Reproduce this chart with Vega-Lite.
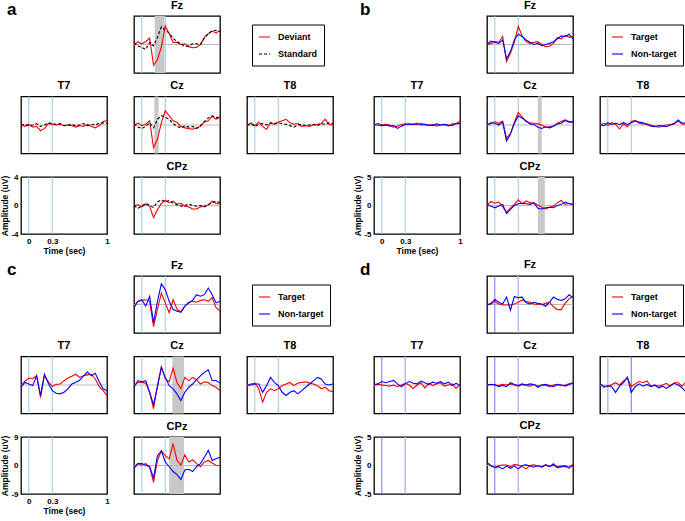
{
"$schema":"https://vega.github.io/schema/vega-lite/v6.json",
"padding":{"left":0,"top":-2,"right":0,"bottom":0},
"config":{
"font":"Liberation Sans",
"view":{"stroke":"#000","strokeWidth":1.3},
"title":{"fontSize":11,"fontWeight":"bold","offset":5,"baseline":"alphabetic","color":"#000"},
"axis":{"disable":true,"domain":false,"ticks":false,"grid":false,"labelFontSize":8,"labelFontWeight":"bold","labelColor":"#000","labelPadding":3,"labelFlush":false,"labelOverlap":false,"titleFontSize":8.5,"titleFontWeight":"bold","titleColor":"#000","titlePadding":1},
"legend":{"orient":"none","legendX":118,"legendY":8.5,"strokeColor":"#000","padding":6,"symbolType":"stroke","symbolSize":121,"symbolStrokeWidth":1.5,"labelFontSize":9,"labelFontWeight":"bold","labelColor":"#000","rowPadding":5,"labelOffset":7},
"line":{"strokeWidth":1.1},
"rule":{"strokeWidth":1}
},
"datasets":{
"a":[
{"e":"Fz","t":-0.1,"Deviant":-0.2,"Standard":0.25},{"e":"Fz","t":-0.05,"Deviant":0.4,"Standard":-0.2},{"e":"Fz","t":0,"Deviant":0.1,"Standard":-0.4},{"e":"Fz","t":0.05,"Deviant":0.4,"Standard":-0.7},{"e":"Fz","t":0.1,"Deviant":0.9,"Standard":0.3},{"e":"Fz","t":0.15,"Deviant":-2.9,"Standard":-0.2},{"e":"Fz","t":0.2,"Deviant":-2.1,"Standard":1},{"e":"Fz","t":0.25,"Deviant":-0.35,"Standard":2.5},{"e":"Fz","t":0.3,"Deviant":2.6,"Standard":2},{"e":"Fz","t":0.35,"Deviant":1.5,"Standard":1.6},{"e":"Fz","t":0.4,"Deviant":0.3,"Standard":0.9},{"e":"Fz","t":0.45,"Deviant":0.3,"Standard":0.4},{"e":"Fz","t":0.5,"Deviant":0,"Standard":0.1},{"e":"Fz","t":0.55,"Deviant":0.1,"Standard":-0.3},{"e":"Fz","t":0.6,"Deviant":-0.3,"Standard":-0.2},{"e":"Fz","t":0.65,"Deviant":-0.45,"Standard":0.1},{"e":"Fz","t":0.7,"Deviant":-0.4,"Standard":0.1},{"e":"Fz","t":0.75,"Deviant":0,"Standard":0},{"e":"Fz","t":0.8,"Deviant":1,"Standard":0.9},{"e":"Fz","t":0.85,"Deviant":1.5,"Standard":1.5},{"e":"Fz","t":0.9,"Deviant":1.9,"Standard":1.9},{"e":"Fz","t":0.95,"Deviant":1.6,"Standard":2},{"e":"Fz","t":1,"Deviant":2,"Standard":1.8},
{"e":"T7","t":-0.1,"Deviant":0,"Standard":0},{"e":"T7","t":-0.05,"Deviant":-0.2,"Standard":0.1},{"e":"T7","t":0,"Deviant":0.1,"Standard":-0.1},{"e":"T7","t":0.05,"Deviant":-0.3,"Standard":0},{"e":"T7","t":0.1,"Deviant":-0.2,"Standard":0.2},{"e":"T7","t":0.15,"Deviant":-0.8,"Standard":-0.2},{"e":"T7","t":0.2,"Deviant":-0.5,"Standard":0},{"e":"T7","t":0.25,"Deviant":0.2,"Standard":0.3},{"e":"T7","t":0.3,"Deviant":0.1,"Standard":0.2},{"e":"T7","t":0.35,"Deviant":0,"Standard":0.1},{"e":"T7","t":0.4,"Deviant":0.1,"Standard":0.2},{"e":"T7","t":0.45,"Deviant":-0.1,"Standard":-0.1},{"e":"T7","t":0.5,"Deviant":0,"Standard":0},{"e":"T7","t":0.55,"Deviant":-0.1,"Standard":0.1},{"e":"T7","t":0.6,"Deviant":-0.3,"Standard":-0.1},{"e":"T7","t":0.65,"Deviant":-0.1,"Standard":0},{"e":"T7","t":0.7,"Deviant":-0.2,"Standard":0.2},{"e":"T7","t":0.75,"Deviant":0.1,"Standard":-0.1},{"e":"T7","t":0.8,"Deviant":-0.2,"Standard":0.1},{"e":"T7","t":0.85,"Deviant":-0.4,"Standard":0},{"e":"T7","t":0.9,"Deviant":-0.1,"Standard":0.2},{"e":"T7","t":0.95,"Deviant":0.5,"Standard":0.3},{"e":"T7","t":1,"Deviant":0.6,"Standard":0.2},
{"e":"Cz","t":-0.1,"Deviant":-0.2,"Standard":0.2},{"e":"Cz","t":-0.05,"Deviant":0.3,"Standard":-0.3},{"e":"Cz","t":0,"Deviant":-0.1,"Standard":-0.5},{"e":"Cz","t":0.05,"Deviant":0.1,"Standard":-0.2},{"e":"Cz","t":0.1,"Deviant":0.6,"Standard":0.3},{"e":"Cz","t":0.15,"Deviant":-3.2,"Standard":-0.4},{"e":"Cz","t":0.2,"Deviant":-2,"Standard":0.8},{"e":"Cz","t":0.25,"Deviant":0.3,"Standard":1.3},{"e":"Cz","t":0.3,"Deviant":2,"Standard":1.1},{"e":"Cz","t":0.35,"Deviant":1.3,"Standard":0.8},{"e":"Cz","t":0.4,"Deviant":0.6,"Standard":0.2},{"e":"Cz","t":0.45,"Deviant":0.4,"Standard":-0.2},{"e":"Cz","t":0.5,"Deviant":-0.2,"Standard":-0.4},{"e":"Cz","t":0.55,"Deviant":-0.4,"Standard":-0.1},{"e":"Cz","t":0.6,"Deviant":-0.5,"Standard":-0.3},{"e":"Cz","t":0.65,"Deviant":-0.6,"Standard":-0.2},{"e":"Cz","t":0.7,"Deviant":-0.4,"Standard":-0.5},{"e":"Cz","t":0.75,"Deviant":-0.2,"Standard":-0.1},{"e":"Cz","t":0.8,"Deviant":0.4,"Standard":0.5},{"e":"Cz","t":0.85,"Deviant":0.6,"Standard":1},{"e":"Cz","t":0.9,"Deviant":1.2,"Standard":1.3},{"e":"Cz","t":0.95,"Deviant":0.8,"Standard":1.1},{"e":"Cz","t":1,"Deviant":1.2,"Standard":0.9},
{"e":"T8","t":-0.1,"Deviant":-0.2,"Standard":0},{"e":"T8","t":-0.05,"Deviant":0.3,"Standard":0.2},{"e":"T8","t":0,"Deviant":-0.1,"Standard":-0.2},{"e":"T8","t":0.05,"Deviant":0.4,"Standard":0.1},{"e":"T8","t":0.1,"Deviant":-0.2,"Standard":0.2},{"e":"T8","t":0.15,"Deviant":-0.6,"Standard":0},{"e":"T8","t":0.2,"Deviant":0.3,"Standard":0.3},{"e":"T8","t":0.25,"Deviant":0.1,"Standard":0.2},{"e":"T8","t":0.3,"Deviant":0.4,"Standard":0.3},{"e":"T8","t":0.35,"Deviant":0.6,"Standard":0.2},{"e":"T8","t":0.4,"Deviant":0.8,"Standard":0.1},{"e":"T8","t":0.45,"Deviant":0.3,"Standard":-0.1},{"e":"T8","t":0.5,"Deviant":0.1,"Standard":-0.3},{"e":"T8","t":0.55,"Deviant":0.2,"Standard":0},{"e":"T8","t":0.6,"Deviant":-0.2,"Standard":0.1},{"e":"T8","t":0.65,"Deviant":-0.1,"Standard":-0.1},{"e":"T8","t":0.7,"Deviant":-0.2,"Standard":0},{"e":"T8","t":0.75,"Deviant":0,"Standard":0.1},{"e":"T8","t":0.8,"Deviant":0.1,"Standard":-0.1},{"e":"T8","t":0.85,"Deviant":0.2,"Standard":0.2},{"e":"T8","t":0.9,"Deviant":0.8,"Standard":0.1},{"e":"T8","t":0.95,"Deviant":0.1,"Standard":0.3},{"e":"T8","t":1,"Deviant":0,"Standard":0.2},
{"e":"CPz","t":-0.1,"Deviant":0,"Standard":0},{"e":"CPz","t":-0.05,"Deviant":0.1,"Standard":-0.4},{"e":"CPz","t":0,"Deviant":-0.2,"Standard":-0.1},{"e":"CPz","t":0.05,"Deviant":0.2,"Standard":0.3},{"e":"CPz","t":0.1,"Deviant":-0.1,"Standard":0},{"e":"CPz","t":0.15,"Deviant":-1.7,"Standard":-0.3},{"e":"CPz","t":0.2,"Deviant":-0.6,"Standard":0.5},{"e":"CPz","t":0.25,"Deviant":0.3,"Standard":0.8},{"e":"CPz","t":0.3,"Deviant":0.7,"Standard":0.5},{"e":"CPz","t":0.35,"Deviant":0.4,"Standard":0.7},{"e":"CPz","t":0.4,"Deviant":0.6,"Standard":0.3},{"e":"CPz","t":0.45,"Deviant":0.2,"Standard":0.1},{"e":"CPz","t":0.5,"Deviant":0.3,"Standard":-0.1},{"e":"CPz","t":0.55,"Deviant":-0.1,"Standard":0},{"e":"CPz","t":0.6,"Deviant":-0.2,"Standard":0.2},{"e":"CPz","t":0.65,"Deviant":-0.5,"Standard":0},{"e":"CPz","t":0.7,"Deviant":-0.5,"Standard":-0.1},{"e":"CPz","t":0.75,"Deviant":-0.2,"Standard":0},{"e":"CPz","t":0.8,"Deviant":-0.1,"Standard":-0.2},{"e":"CPz","t":0.85,"Deviant":0.1,"Standard":0.1},{"e":"CPz","t":0.9,"Deviant":0.6,"Standard":0.4},{"e":"CPz","t":0.95,"Deviant":0.3,"Standard":0.6},{"e":"CPz","t":1,"Deviant":0.2,"Standard":0.4}
],
"b":[
{"e":"Fz","t":-0.1,"Target":0,"Non-target":0},{"e":"Fz","t":-0.05,"Target":0.2,"Non-target":0.6},{"e":"Fz","t":0,"Target":0.5,"Non-target":0.4},{"e":"Fz","t":0.05,"Target":0.4,"Non-target":0.2},{"e":"Fz","t":0.1,"Target":1.4,"Non-target":0.8},{"e":"Fz","t":0.15,"Target":-3,"Non-target":-2.5},{"e":"Fz","t":0.2,"Target":-1.5,"Non-target":-1.2},{"e":"Fz","t":0.25,"Target":0.4,"Non-target":0.8},{"e":"Fz","t":0.3,"Target":3.2,"Non-target":1.8},{"e":"Fz","t":0.35,"Target":1.5,"Non-target":1.4},{"e":"Fz","t":0.4,"Target":0.5,"Non-target":0.8},{"e":"Fz","t":0.45,"Target":0.2,"Non-target":0.4},{"e":"Fz","t":0.5,"Target":0.4,"Non-target":0},{"e":"Fz","t":0.55,"Target":0.5,"Non-target":0.2},{"e":"Fz","t":0.6,"Target":0,"Non-target":-0.2},{"e":"Fz","t":0.65,"Target":-0.4,"Non-target":0},{"e":"Fz","t":0.7,"Target":-0.3,"Non-target":0.2},{"e":"Fz","t":0.75,"Target":0.2,"Non-target":0.5},{"e":"Fz","t":0.8,"Target":1.2,"Non-target":1},{"e":"Fz","t":0.85,"Target":1,"Non-target":1.5},{"e":"Fz","t":0.9,"Target":1.6,"Non-target":1.4},{"e":"Fz","t":0.95,"Target":1.3,"Non-target":1.8},{"e":"Fz","t":1,"Target":1.3,"Non-target":1},
{"e":"T7","t":-0.1,"Target":0,"Non-target":0},{"e":"T7","t":-0.05,"Target":0.3,"Non-target":0},{"e":"T7","t":0,"Target":0,"Non-target":-0.1},{"e":"T7","t":0.05,"Target":0.1,"Non-target":0},{"e":"T7","t":0.1,"Target":0,"Non-target":-0.2},{"e":"T7","t":0.15,"Target":-0.4,"Non-target":-0.1},{"e":"T7","t":0.2,"Target":-0.2,"Non-target":-0.6},{"e":"T7","t":0.25,"Target":0.1,"Non-target":-0.2},{"e":"T7","t":0.3,"Target":0.2,"Non-target":0.1},{"e":"T7","t":0.35,"Target":0.1,"Non-target":0.2},{"e":"T7","t":0.4,"Target":0.2,"Non-target":0.1},{"e":"T7","t":0.45,"Target":0,"Non-target":0.3},{"e":"T7","t":0.5,"Target":0.3,"Non-target":0},{"e":"T7","t":0.55,"Target":0.1,"Non-target":0.1},{"e":"T7","t":0.6,"Target":-0.1,"Non-target":0},{"e":"T7","t":0.65,"Target":0.1,"Non-target":-0.1},{"e":"T7","t":0.7,"Target":-0.2,"Non-target":0.2},{"e":"T7","t":0.75,"Target":0,"Non-target":0},{"e":"T7","t":0.8,"Target":0.1,"Non-target":0.1},{"e":"T7","t":0.85,"Target":-0.2,"Non-target":0},{"e":"T7","t":0.9,"Target":0.2,"Non-target":-0.1},{"e":"T7","t":0.95,"Target":0.2,"Non-target":0.3},{"e":"T7","t":1,"Target":0.7,"Non-target":0.2},
{"e":"Cz","t":-0.1,"Target":0,"Non-target":0},{"e":"Cz","t":-0.05,"Target":0.2,"Non-target":0.4},{"e":"Cz","t":0,"Target":0.6,"Non-target":0.3},{"e":"Cz","t":0.05,"Target":0.3,"Non-target":0},{"e":"Cz","t":0.1,"Target":0.7,"Non-target":0.5},{"e":"Cz","t":0.15,"Target":-2.3,"Non-target":-2.8},{"e":"Cz","t":0.2,"Target":-1.5,"Non-target":-1.6},{"e":"Cz","t":0.25,"Target":0.5,"Non-target":0.3},{"e":"Cz","t":0.3,"Target":2.2,"Non-target":1.6},{"e":"Cz","t":0.35,"Target":1.4,"Non-target":1.2},{"e":"Cz","t":0.4,"Target":0.6,"Non-target":0.7},{"e":"Cz","t":0.45,"Target":0.4,"Non-target":0.2},{"e":"Cz","t":0.5,"Target":0.3,"Non-target":0.1},{"e":"Cz","t":0.55,"Target":0.2,"Non-target":-0.4},{"e":"Cz","t":0.6,"Target":0,"Non-target":-0.6},{"e":"Cz","t":0.65,"Target":-0.4,"Non-target":-0.3},{"e":"Cz","t":0.7,"Target":-0.3,"Non-target":-0.5},{"e":"Cz","t":0.75,"Target":-0.2,"Non-target":-0.2},{"e":"Cz","t":0.8,"Target":0.3,"Non-target":0.2},{"e":"Cz","t":0.85,"Target":0.6,"Non-target":0.3},{"e":"Cz","t":0.9,"Target":0.9,"Non-target":0.8},{"e":"Cz","t":0.95,"Target":0.6,"Non-target":0.5},{"e":"Cz","t":1,"Target":0.6,"Non-target":0.5},
{"e":"T8","t":-0.1,"Target":0,"Non-target":0},{"e":"T8","t":-0.05,"Target":0.3,"Non-target":-0.1},{"e":"T8","t":0,"Target":-0.1,"Non-target":0.4},{"e":"T8","t":0.05,"Target":0.4,"Non-target":0.1},{"e":"T8","t":0.1,"Target":0.1,"Non-target":0.3},{"e":"T8","t":0.15,"Target":-0.7,"Non-target":0.1},{"e":"T8","t":0.2,"Target":0.2,"Non-target":0.4},{"e":"T8","t":0.25,"Target":-0.3,"Non-target":0.1},{"e":"T8","t":0.3,"Target":0.6,"Non-target":0.4},{"e":"T8","t":0.35,"Target":0.8,"Non-target":0.7},{"e":"T8","t":0.4,"Target":0.3,"Non-target":0.5},{"e":"T8","t":0.45,"Target":0.2,"Non-target":0.4},{"e":"T8","t":0.5,"Target":0.2,"Non-target":0.1},{"e":"T8","t":0.55,"Target":0,"Non-target":-0.2},{"e":"T8","t":0.6,"Target":-0.2,"Non-target":-0.3},{"e":"T8","t":0.65,"Target":-0.4,"Non-target":-0.1},{"e":"T8","t":0.7,"Target":-0.2,"Non-target":-0.2},{"e":"T8","t":0.75,"Target":0,"Non-target":-0.3},{"e":"T8","t":0.8,"Target":0.1,"Non-target":0},{"e":"T8","t":0.85,"Target":0.2,"Non-target":0.3},{"e":"T8","t":0.9,"Target":0.7,"Non-target":0.9},{"e":"T8","t":0.95,"Target":0.2,"Non-target":0.3},{"e":"T8","t":1,"Target":0.1,"Non-target":0.4},
{"e":"CPz","t":-0.1,"Target":0,"Non-target":0},{"e":"CPz","t":-0.05,"Target":0.7,"Non-target":-0.1},{"e":"CPz","t":0,"Target":0.4,"Non-target":-0.4},{"e":"CPz","t":0.05,"Target":0.6,"Non-target":-0.1},{"e":"CPz","t":0.1,"Target":-0.2,"Non-target":0.2},{"e":"CPz","t":0.15,"Target":-1.2,"Non-target":-1.4},{"e":"CPz","t":0.2,"Target":-0.4,"Non-target":-0.7},{"e":"CPz","t":0.25,"Target":0.2,"Non-target":0},{"e":"CPz","t":0.3,"Target":1,"Non-target":0.3},{"e":"CPz","t":0.35,"Target":0.3,"Non-target":0.4},{"e":"CPz","t":0.4,"Target":0.8,"Non-target":0.3},{"e":"CPz","t":0.45,"Target":0.5,"Non-target":0.2},{"e":"CPz","t":0.5,"Target":0.4,"Non-target":0.5},{"e":"CPz","t":0.55,"Target":0.1,"Non-target":-0.5},{"e":"CPz","t":0.6,"Target":-0.3,"Non-target":-0.6},{"e":"CPz","t":0.65,"Target":-0.6,"Non-target":-0.4},{"e":"CPz","t":0.7,"Target":-0.3,"Non-target":-0.3},{"e":"CPz","t":0.75,"Target":-0.1,"Non-target":-0.4},{"e":"CPz","t":0.8,"Target":0.5,"Non-target":0},{"e":"CPz","t":0.85,"Target":0.9,"Non-target":0.2},{"e":"CPz","t":0.9,"Target":0.2,"Non-target":0.6},{"e":"CPz","t":0.95,"Target":0.4,"Non-target":0.3},{"e":"CPz","t":1,"Target":0.1,"Non-target":0.2}
],
"c":[
{"e":"Fz","t":-0.1,"Target":-0.5,"Non-target":-1},{"e":"Fz","t":-0.05,"Target":1,"Non-target":1},{"e":"Fz","t":0,"Target":1.3,"Non-target":1.5},{"e":"Fz","t":0.05,"Target":1.5,"Non-target":-0.5},{"e":"Fz","t":0.1,"Target":1,"Non-target":2.6},{"e":"Fz","t":0.15,"Target":-7,"Non-target":-5.7},{"e":"Fz","t":0.2,"Target":-1.5,"Non-target":1},{"e":"Fz","t":0.25,"Target":3.6,"Non-target":6.5},{"e":"Fz","t":0.3,"Target":0.5,"Non-target":4.7},{"e":"Fz","t":0.35,"Target":-2.6,"Non-target":1},{"e":"Fz","t":0.4,"Target":1.5,"Non-target":-1.5},{"e":"Fz","t":0.45,"Target":-1.5,"Non-target":-2.1},{"e":"Fz","t":0.5,"Target":-2.4,"Non-target":-2.4},{"e":"Fz","t":0.55,"Target":-0.5,"Non-target":-0.5},{"e":"Fz","t":0.6,"Target":0.7,"Non-target":0.5},{"e":"Fz","t":0.65,"Target":1,"Non-target":1.3},{"e":"Fz","t":0.7,"Target":0.7,"Non-target":3.1},{"e":"Fz","t":0.75,"Target":1.3,"Non-target":2.6},{"e":"Fz","t":0.8,"Target":1.5,"Non-target":3.1},{"e":"Fz","t":0.85,"Target":1,"Non-target":5.2},{"e":"Fz","t":0.9,"Target":2.2,"Non-target":3.1},{"e":"Fz","t":0.95,"Target":-1,"Non-target":0.5},{"e":"Fz","t":1,"Target":-2,"Non-target":1},
{"e":"T7","t":-0.1,"Target":-0.2,"Non-target":-0.7},{"e":"T7","t":-0.05,"Target":1.2,"Non-target":0.8},{"e":"T7","t":0,"Target":2.2,"Non-target":0.3},{"e":"T7","t":0.05,"Target":2,"Non-target":-0.2},{"e":"T7","t":0.1,"Target":3,"Non-target":2.9},{"e":"T7","t":0.15,"Target":-4,"Non-target":-3.3},{"e":"T7","t":0.2,"Target":3,"Non-target":3.4},{"e":"T7","t":0.25,"Target":1,"Non-target":0.5},{"e":"T7","t":0.3,"Target":-0.5,"Non-target":-1.8},{"e":"T7","t":0.35,"Target":0.2,"Non-target":-2.6},{"e":"T7","t":0.4,"Target":0.3,"Non-target":-2.8},{"e":"T7","t":0.45,"Target":1.3,"Non-target":-2.3},{"e":"T7","t":0.5,"Target":2.2,"Non-target":-1.2},{"e":"T7","t":0.55,"Target":2.8,"Non-target":0.3},{"e":"T7","t":0.6,"Target":3.4,"Non-target":0.8},{"e":"T7","t":0.65,"Target":2.4,"Non-target":1.5},{"e":"T7","t":0.7,"Target":2.9,"Non-target":2.9},{"e":"T7","t":0.75,"Target":3.2,"Non-target":4.1},{"e":"T7","t":0.8,"Target":3.4,"Non-target":2.9},{"e":"T7","t":0.85,"Target":1.9,"Non-target":3.7},{"e":"T7","t":0.9,"Target":-0.5,"Non-target":1},{"e":"T7","t":0.95,"Target":-1.8,"Non-target":-1.2},{"e":"T7","t":1,"Target":-3.3,"Non-target":-1.8},
{"e":"Cz","t":-0.1,"Target":-0.2,"Non-target":-0.7},{"e":"Cz","t":-0.05,"Target":0.8,"Non-target":1.4},{"e":"Cz","t":0,"Target":0.8,"Non-target":1},{"e":"Cz","t":0.05,"Target":0.6,"Non-target":1.4},{"e":"Cz","t":0.1,"Target":-2.3,"Non-target":-2.3},{"e":"Cz","t":0.15,"Target":-7.5,"Non-target":-6.2},{"e":"Cz","t":0.2,"Target":-0.2,"Non-target":-0.5},{"e":"Cz","t":0.25,"Target":5.8,"Non-target":5.5},{"e":"Cz","t":0.3,"Target":1.9,"Non-target":2.4},{"e":"Cz","t":0.35,"Target":1,"Non-target":-0.2},{"e":"Cz","t":0.4,"Target":5.3,"Non-target":-1.2},{"e":"Cz","t":0.45,"Target":0.8,"Non-target":-2.8},{"e":"Cz","t":0.5,"Target":-1.2,"Non-target":-4.9},{"e":"Cz","t":0.55,"Target":2.4,"Non-target":-2.3},{"e":"Cz","t":0.6,"Target":1.4,"Non-target":-0.7},{"e":"Cz","t":0.65,"Target":2.4,"Non-target":0.3},{"e":"Cz","t":0.7,"Target":1.7,"Non-target":1.7},{"e":"Cz","t":0.75,"Target":0.3,"Non-target":2.9},{"e":"Cz","t":0.8,"Target":1,"Non-target":4},{"e":"Cz","t":0.85,"Target":0.8,"Non-target":4.8},{"e":"Cz","t":0.9,"Target":-0.2,"Non-target":1.4},{"e":"Cz","t":0.95,"Target":-0.7,"Non-target":1.4},{"e":"Cz","t":1,"Target":-1.8,"Non-target":0.6},
{"e":"T8","t":-0.1,"Target":-0.2,"Non-target":0},{"e":"T8","t":-0.05,"Target":0.3,"Non-target":0},{"e":"T8","t":0,"Target":0.6,"Non-target":0.3},{"e":"T8","t":0.05,"Target":-1.2,"Non-target":0.3},{"e":"T8","t":0.1,"Target":-5.4,"Non-target":-2.3},{"e":"T8","t":0.15,"Target":-2.3,"Non-target":-0.2},{"e":"T8","t":0.2,"Target":-1.2,"Non-target":2.4},{"e":"T8","t":0.25,"Target":-1.8,"Non-target":0.8},{"e":"T8","t":0.3,"Target":-1.2,"Non-target":-0.2},{"e":"T8","t":0.35,"Target":-0.2,"Non-target":-2.3},{"e":"T8","t":0.4,"Target":0.3,"Non-target":-3.3},{"e":"T8","t":0.45,"Target":0.8,"Non-target":-2.3},{"e":"T8","t":0.5,"Target":-0.2,"Non-target":-1.8},{"e":"T8","t":0.55,"Target":0.6,"Non-target":-2.8},{"e":"T8","t":0.6,"Target":0.8,"Non-target":-1.8},{"e":"T8","t":0.65,"Target":1,"Non-target":-0.7},{"e":"T8","t":0.7,"Target":0.6,"Non-target":0.3},{"e":"T8","t":0.75,"Target":0.3,"Non-target":1.3},{"e":"T8","t":0.8,"Target":-0.2,"Non-target":2.4},{"e":"T8","t":0.85,"Target":-1.2,"Non-target":1.9},{"e":"T8","t":0.9,"Target":-0.7,"Non-target":0.3},{"e":"T8","t":0.95,"Target":-1.8,"Non-target":0},{"e":"T8","t":1,"Target":-2.1,"Non-target":0.3},
{"e":"CPz","t":-0.1,"Target":-0.4,"Non-target":-0.9},{"e":"CPz","t":-0.05,"Target":0.6,"Non-target":0.6},{"e":"CPz","t":0,"Target":0.1,"Non-target":0.6},{"e":"CPz","t":0.05,"Target":0.6,"Non-target":0.1},{"e":"CPz","t":0.1,"Target":-0.4,"Non-target":-0.4},{"e":"CPz","t":0.15,"Target":-5.3,"Non-target":-3.9},{"e":"CPz","t":0.2,"Target":1.6,"Non-target":3.1},{"e":"CPz","t":0.25,"Target":4.6,"Non-target":4.6},{"e":"CPz","t":0.3,"Target":3.1,"Non-target":1.1},{"e":"CPz","t":0.35,"Target":2.1,"Non-target":-0.4},{"e":"CPz","t":0.4,"Target":6.9,"Non-target":-1.9},{"e":"CPz","t":0.45,"Target":1.6,"Non-target":-2.9},{"e":"CPz","t":0.5,"Target":0.1,"Non-target":-4.4},{"e":"CPz","t":0.55,"Target":3.4,"Non-target":-1.4},{"e":"CPz","t":0.6,"Target":1.1,"Non-target":-1.2},{"e":"CPz","t":0.65,"Target":1.8,"Non-target":-1.9},{"e":"CPz","t":0.7,"Target":0.6,"Non-target":-0.4},{"e":"CPz","t":0.75,"Target":-0.4,"Non-target":0.6},{"e":"CPz","t":0.8,"Target":1.1,"Non-target":2.6},{"e":"CPz","t":0.85,"Target":1.6,"Non-target":4.8},{"e":"CPz","t":0.9,"Target":0.8,"Non-target":1.6},{"e":"CPz","t":0.95,"Target":0.1,"Non-target":2.1},{"e":"CPz","t":1,"Target":0,"Non-target":2.6}
],
"d":[
{"e":"Fz","t":-0.1,"Target":-0.1,"Non-target":-0.1},{"e":"Fz","t":-0.05,"Target":0.1,"Non-target":0.2},{"e":"Fz","t":0,"Target":0.5,"Non-target":0.9},{"e":"Fz","t":0.05,"Target":0.1,"Non-target":0.4},{"e":"Fz","t":0.1,"Target":-0.1,"Non-target":0.1},{"e":"Fz","t":0.15,"Target":-0.1,"Non-target":1.3},{"e":"Fz","t":0.2,"Target":-0.1,"Non-target":-1},{"e":"Fz","t":0.25,"Target":0.1,"Non-target":1.4},{"e":"Fz","t":0.3,"Target":0.4,"Non-target":1.2},{"e":"Fz","t":0.35,"Target":0.8,"Non-target":1.3},{"e":"Fz","t":0.4,"Target":0.5,"Non-target":0.3},{"e":"Fz","t":0.45,"Target":0.4,"Non-target":0.1},{"e":"Fz","t":0.5,"Target":0.1,"Non-target":0.4},{"e":"Fz","t":0.55,"Target":0,"Non-target":0.2},{"e":"Fz","t":0.6,"Target":-0.05,"Non-target":0.1},{"e":"Fz","t":0.65,"Target":0.2,"Non-target":-0.3},{"e":"Fz","t":0.7,"Target":0.4,"Non-target":0.4},{"e":"Fz","t":0.75,"Target":-0.4,"Non-target":1.3},{"e":"Fz","t":0.8,"Target":-0.9,"Non-target":0.9},{"e":"Fz","t":0.85,"Target":-0.9,"Non-target":0.7},{"e":"Fz","t":0.9,"Target":0.2,"Non-target":1},{"e":"Fz","t":0.95,"Target":1,"Non-target":1.7},{"e":"Fz","t":1,"Target":1.5,"Non-target":1.2},
{"e":"T7","t":-0.1,"Target":0,"Non-target":0.1},{"e":"T7","t":-0.05,"Target":0.1,"Non-target":0.2},{"e":"T7","t":0,"Target":0,"Non-target":0.6},{"e":"T7","t":0.05,"Target":-0.1,"Non-target":0.4},{"e":"T7","t":0.1,"Target":-0.2,"Non-target":0.6},{"e":"T7","t":0.15,"Target":0,"Non-target":0.8},{"e":"T7","t":0.2,"Target":-0.3,"Non-target":0.2},{"e":"T7","t":0.25,"Target":0,"Non-target":-0.3},{"e":"T7","t":0.3,"Target":0.3,"Non-target":0.2},{"e":"T7","t":0.35,"Target":0,"Non-target":0.6},{"e":"T7","t":0.4,"Target":-0.6,"Non-target":0.3},{"e":"T7","t":0.45,"Target":0,"Non-target":0.2},{"e":"T7","t":0.5,"Target":0.4,"Non-target":0.7},{"e":"T7","t":0.55,"Target":-0.5,"Non-target":0.4},{"e":"T7","t":0.6,"Target":0.3,"Non-target":0.1},{"e":"T7","t":0.65,"Target":-0.1,"Non-target":0.5},{"e":"T7","t":0.7,"Target":0.2,"Non-target":0.3},{"e":"T7","t":0.75,"Target":0.4,"Non-target":0.6},{"e":"T7","t":0.8,"Target":-0.2,"Non-target":0.2},{"e":"T7","t":0.85,"Target":0,"Non-target":0.5},{"e":"T7","t":0.9,"Target":0.2,"Non-target":-0.1},{"e":"T7","t":0.95,"Target":-0.6,"Non-target":0.3},{"e":"T7","t":1,"Target":0.1,"Non-target":-0.1},
{"e":"Cz","t":-0.1,"Target":0,"Non-target":0},{"e":"Cz","t":-0.05,"Target":0.1,"Non-target":0.1},{"e":"Cz","t":0,"Target":0,"Non-target":0.1},{"e":"Cz","t":0.05,"Target":-0.1,"Non-target":-0.3},{"e":"Cz","t":0.1,"Target":0.1,"Non-target":-0.1},{"e":"Cz","t":0.15,"Target":0,"Non-target":-0.3},{"e":"Cz","t":0.2,"Target":0.2,"Non-target":0.4},{"e":"Cz","t":0.25,"Target":0,"Non-target":0.1},{"e":"Cz","t":0.3,"Target":-0.2,"Non-target":-0.1},{"e":"Cz","t":0.35,"Target":0.1,"Non-target":0.2},{"e":"Cz","t":0.4,"Target":-0.1,"Non-target":0},{"e":"Cz","t":0.45,"Target":-0.2,"Non-target":0.2},{"e":"Cz","t":0.5,"Target":0.1,"Non-target":0.1},{"e":"Cz","t":0.55,"Target":-0.2,"Non-target":-0.4},{"e":"Cz","t":0.6,"Target":0,"Non-target":0},{"e":"Cz","t":0.65,"Target":-0.1,"Non-target":0.1},{"e":"Cz","t":0.7,"Target":-0.3,"Non-target":-0.1},{"e":"Cz","t":0.75,"Target":0,"Non-target":-0.3},{"e":"Cz","t":0.8,"Target":0.1,"Non-target":0.1},{"e":"Cz","t":0.85,"Target":-0.1,"Non-target":0},{"e":"Cz","t":0.9,"Target":0,"Non-target":-0.2},{"e":"Cz","t":0.95,"Target":0.2,"Non-target":0.1},{"e":"Cz","t":1,"Target":0.4,"Non-target":0.3},
{"e":"T8","t":-0.1,"Target":0.2,"Non-target":0.3},{"e":"T8","t":-0.05,"Target":-0.2,"Non-target":-0.4},{"e":"T8","t":0,"Target":-0.3,"Non-target":-0.1},{"e":"T8","t":0.05,"Target":0.1,"Non-target":-0.3},{"e":"T8","t":0.1,"Target":0.4,"Non-target":-1.3},{"e":"T8","t":0.15,"Target":0,"Non-target":-0.2},{"e":"T8","t":0.2,"Target":0.7,"Non-target":0.4},{"e":"T8","t":0.25,"Target":1.2,"Non-target":1.4},{"e":"T8","t":0.3,"Target":-0.3,"Non-target":-1.3},{"e":"T8","t":0.35,"Target":0.2,"Non-target":-0.3},{"e":"T8","t":0.4,"Target":0.6,"Non-target":0.2},{"e":"T8","t":0.45,"Target":0.4,"Non-target":-0.2},{"e":"T8","t":0.5,"Target":0.7,"Non-target":0.1},{"e":"T8","t":0.55,"Target":-0.2,"Non-target":-0.3},{"e":"T8","t":0.6,"Target":-0.1,"Non-target":0},{"e":"T8","t":0.65,"Target":-0.2,"Non-target":-0.5},{"e":"T8","t":0.7,"Target":0,"Non-target":-0.2},{"e":"T8","t":0.75,"Target":0.3,"Non-target":-0.6},{"e":"T8","t":0.8,"Target":-0.2,"Non-target":-0.1},{"e":"T8","t":0.85,"Target":0.4,"Non-target":0.3},{"e":"T8","t":0.9,"Target":0.4,"Non-target":0},{"e":"T8","t":0.95,"Target":-0.2,"Non-target":-0.5},{"e":"T8","t":1,"Target":0.6,"Non-target":-1.2},
{"e":"CPz","t":-0.1,"Target":0.5,"Non-target":0.5},{"e":"CPz","t":-0.05,"Target":-0.1,"Non-target":0},{"e":"CPz","t":0,"Target":-0.3,"Non-target":-0.4},{"e":"CPz","t":0.05,"Target":0,"Non-target":-0.2},{"e":"CPz","t":0.1,"Target":0.1,"Non-target":-0.6},{"e":"CPz","t":0.15,"Target":0.1,"Non-target":-0.1},{"e":"CPz","t":0.2,"Target":-0.2,"Non-target":-0.5},{"e":"CPz","t":0.25,"Target":0.2,"Non-target":-0.1},{"e":"CPz","t":0.3,"Target":0.1,"Non-target":-0.6},{"e":"CPz","t":0.35,"Target":-0.2,"Non-target":0},{"e":"CPz","t":0.4,"Target":-0.6,"Non-target":0.1},{"e":"CPz","t":0.45,"Target":0,"Non-target":-0.1},{"e":"CPz","t":0.5,"Target":0.1,"Non-target":-0.3},{"e":"CPz","t":0.55,"Target":-0.1,"Non-target":0},{"e":"CPz","t":0.6,"Target":-0.2,"Non-target":-0.3},{"e":"CPz","t":0.65,"Target":0.1,"Non-target":0.1},{"e":"CPz","t":0.7,"Target":-0.1,"Non-target":-0.2},{"e":"CPz","t":0.75,"Target":0,"Non-target":0.3},{"e":"CPz","t":0.8,"Target":-0.2,"Non-target":-0.4},{"e":"CPz","t":0.85,"Target":-0.3,"Non-target":-0.1},{"e":"CPz","t":0.9,"Target":0,"Non-target":-0.2},{"e":"CPz","t":0.95,"Target":-0.5,"Non-target":-0.3},{"e":"CPz","t":1,"Target":0.3,"Non-target":0}
]
},
"columns":2,
"spacing":{"column":17,"row":2},
"resolve":{"scale":{"color":"independent","strokeDash":"independent"}},
"concat":[
{"columns":3,"spacing":{"row":23.5,"column":27},"bounds":"flush","resolve":{"legend":{"color":"independent","strokeDash":"independent"}},
"concat":[
{"width":86,"height":57,"data":{"values":[{}]},"mark":{"type":"text","text":""},"view":{"stroke":null},"title":{"text":"a","anchor":"start","dx":-14,"offset":-3,"fontSize":17}},
{"width":86,"height":57,"title":"Fz","layer":[
{"data":{"values":[{"from":0.165,"to":0.29}]},"mark":{"type":"rect","color":"#c8c8c8"},"encoding":{"x":{"field":"from","type":"quantitative"},"x2":{"field":"to"}}},
{"data":{"values":[{}]},"mark":{"type":"rule","color":"#b8b8b8"},"encoding":{"y":{"datum":0,"type":"quantitative"}}},
{"data":{"values":[{"t":0},{"t":0.3}]},"mark":{"type":"rule","color":"#9dc6e8"},"encoding":{"x":{"field":"t","type":"quantitative"}}},
{"data":{"name":"a"},"transform":[{"filter":"datum.e==='Fz'"},{"fold":["Deviant","Standard"],"as":["cond","uV"]}],"mark":"line","encoding":{"x":{"field":"t","type":"quantitative","scale":{"domain":[-0.1,1],"nice":false}},"y":{"field":"uV","type":"quantitative","scale":{"domain":[-4,4],"nice":false}},"color":{"field":"cond","type":"nominal","scale":{"domain":["Deviant","Standard"],"range":["#ff0000","#000000"]},"legend":{"title":null}},"strokeDash":{"field":"cond","type":"nominal","scale":{"domain":["Deviant","Standard"],"range":[[1,0],[3,2]]},"legend":{"title":null}}}}
]},
{"width":86,"height":57,"data":{"values":[{}]},"mark":{"type":"text","text":""},"view":{"stroke":null}},
{"width":86,"height":57,"title":"T7","layer":[
{"data":{"values":[{}]},"mark":{"type":"rule","color":"#b8b8b8"},"encoding":{"y":{"datum":0,"type":"quantitative"}}},
{"data":{"values":[{"t":0},{"t":0.3}]},"mark":{"type":"rule","color":"#9dc6e8"},"encoding":{"x":{"field":"t","type":"quantitative"}}},
{"data":{"name":"a"},"transform":[{"filter":"datum.e==='T7'"},{"fold":["Deviant","Standard"],"as":["cond","uV"]}],"mark":"line","encoding":{"x":{"field":"t","type":"quantitative","scale":{"domain":[-0.1,1],"nice":false}},"y":{"field":"uV","type":"quantitative","scale":{"domain":[-4,4],"nice":false}},"color":{"field":"cond","type":"nominal","scale":{"domain":["Deviant","Standard"],"range":["#ff0000","#000000"]},"legend":null},"strokeDash":{"field":"cond","type":"nominal","scale":{"domain":["Deviant","Standard"],"range":[[1,0],[3,2]]},"legend":null}}}
]},
{"width":86,"height":57,"title":"Cz","layer":[
{"data":{"values":[{"from":0.16,"to":0.215}]},"mark":{"type":"rect","color":"#c8c8c8"},"encoding":{"x":{"field":"from","type":"quantitative"},"x2":{"field":"to"}}},
{"data":{"values":[{}]},"mark":{"type":"rule","color":"#b8b8b8"},"encoding":{"y":{"datum":0,"type":"quantitative"}}},
{"data":{"values":[{"t":0},{"t":0.3}]},"mark":{"type":"rule","color":"#9dc6e8"},"encoding":{"x":{"field":"t","type":"quantitative"}}},
{"data":{"name":"a"},"transform":[{"filter":"datum.e==='Cz'"},{"fold":["Deviant","Standard"],"as":["cond","uV"]}],"mark":"line","encoding":{"x":{"field":"t","type":"quantitative","scale":{"domain":[-0.1,1],"nice":false}},"y":{"field":"uV","type":"quantitative","scale":{"domain":[-4,4],"nice":false}},"color":{"field":"cond","type":"nominal","scale":{"domain":["Deviant","Standard"],"range":["#ff0000","#000000"]},"legend":null},"strokeDash":{"field":"cond","type":"nominal","scale":{"domain":["Deviant","Standard"],"range":[[1,0],[3,2]]},"legend":null}}}
]},
{"width":86,"height":57,"title":"T8","layer":[
{"data":{"values":[{}]},"mark":{"type":"rule","color":"#b8b8b8"},"encoding":{"y":{"datum":0,"type":"quantitative"}}},
{"data":{"values":[{"t":0},{"t":0.3}]},"mark":{"type":"rule","color":"#9dc6e8"},"encoding":{"x":{"field":"t","type":"quantitative"}}},
{"data":{"name":"a"},"transform":[{"filter":"datum.e==='T8'"},{"fold":["Deviant","Standard"],"as":["cond","uV"]}],"mark":"line","encoding":{"x":{"field":"t","type":"quantitative","scale":{"domain":[-0.1,1],"nice":false}},"y":{"field":"uV","type":"quantitative","scale":{"domain":[-4,4],"nice":false}},"color":{"field":"cond","type":"nominal","scale":{"domain":["Deviant","Standard"],"range":["#ff0000","#000000"]},"legend":null},"strokeDash":{"field":"cond","type":"nominal","scale":{"domain":["Deviant","Standard"],"range":[[1,0],[3,2]]},"legend":null}}}
]},
{"width":86,"height":57,"data":{"values":[{"t":0},{"t":0.3}]},"mark":{"type":"rule","color":"#9dc6e8"},"encoding":{"x":{"field":"t","type":"quantitative","scale":{"domain":[-0.1,1],"nice":false},"axis":{"values":[0,0.3,1],"title":"Time (sec)","labelExpr":"''+datum.value"}},"y":{"datum":-4,"type":"quantitative","scale":{"domain":[-4,4],"nice":false},"axis":{"values":[-4,0,4],"title":"Amplitude (uV)","labelExpr":"''+datum.value"}},"y2":{"datum":4}}},
{"width":86,"height":57,"title":"CPz","layer":[
{"data":{"values":[{}]},"mark":{"type":"rule","color":"#b8b8b8"},"encoding":{"y":{"datum":0,"type":"quantitative"}}},
{"data":{"values":[{"t":0},{"t":0.3}]},"mark":{"type":"rule","color":"#9dc6e8"},"encoding":{"x":{"field":"t","type":"quantitative"}}},
{"data":{"name":"a"},"transform":[{"filter":"datum.e==='CPz'"},{"fold":["Deviant","Standard"],"as":["cond","uV"]}],"mark":"line","encoding":{"x":{"field":"t","type":"quantitative","scale":{"domain":[-0.1,1],"nice":false}},"y":{"field":"uV","type":"quantitative","scale":{"domain":[-4,4],"nice":false}},"color":{"field":"cond","type":"nominal","scale":{"domain":["Deviant","Standard"],"range":["#ff0000","#000000"]},"legend":null},"strokeDash":{"field":"cond","type":"nominal","scale":{"domain":["Deviant","Standard"],"range":[[1,0],[3,2]]},"legend":null}}}
]}
]},
{"columns":3,"spacing":{"row":23.5,"column":27},"bounds":"flush","resolve":{"legend":{"color":"independent"}},
"concat":[
{"width":86,"height":57,"data":{"values":[{}]},"mark":{"type":"text","text":""},"view":{"stroke":null},"title":{"text":"b","anchor":"start","dx":-14,"offset":-3,"fontSize":17}},
{"width":86,"height":57,"title":"Fz","layer":[
{"data":{"values":[{}]},"mark":{"type":"rule","color":"#b8b8b8"},"encoding":{"y":{"datum":0,"type":"quantitative"}}},
{"data":{"values":[{"t":0},{"t":0.3}]},"mark":{"type":"rule","color":"#9dc6e8"},"encoding":{"x":{"field":"t","type":"quantitative"}}},
{"data":{"name":"b"},"transform":[{"filter":"datum.e==='Fz'"},{"fold":["Target","Non-target"],"as":["cond","uV"]}],"mark":"line","encoding":{"x":{"field":"t","type":"quantitative","scale":{"domain":[-0.1,1],"nice":false}},"y":{"field":"uV","type":"quantitative","scale":{"domain":[-5,5],"nice":false}},"color":{"field":"cond","type":"nominal","scale":{"domain":["Target","Non-target"],"range":["#ff0000","#0000ff"]},"legend":{"title":null}}}}
]},
{"width":86,"height":57,"data":{"values":[{}]},"mark":{"type":"text","text":""},"view":{"stroke":null}},
{"width":86,"height":57,"title":"T7","layer":[
{"data":{"values":[{}]},"mark":{"type":"rule","color":"#b8b8b8"},"encoding":{"y":{"datum":0,"type":"quantitative"}}},
{"data":{"values":[{"t":0},{"t":0.3}]},"mark":{"type":"rule","color":"#9dc6e8"},"encoding":{"x":{"field":"t","type":"quantitative"}}},
{"data":{"name":"b"},"transform":[{"filter":"datum.e==='T7'"},{"fold":["Target","Non-target"],"as":["cond","uV"]}],"mark":"line","encoding":{"x":{"field":"t","type":"quantitative","scale":{"domain":[-0.1,1],"nice":false}},"y":{"field":"uV","type":"quantitative","scale":{"domain":[-5,5],"nice":false}},"color":{"field":"cond","type":"nominal","scale":{"domain":["Target","Non-target"],"range":["#ff0000","#0000ff"]},"legend":null}}}
]},
{"width":86,"height":57,"title":"Cz","layer":[
{"data":{"values":[{"from":0.55,"to":0.6}]},"mark":{"type":"rect","color":"#c8c8c8"},"encoding":{"x":{"field":"from","type":"quantitative"},"x2":{"field":"to"}}},
{"data":{"values":[{}]},"mark":{"type":"rule","color":"#b8b8b8"},"encoding":{"y":{"datum":0,"type":"quantitative"}}},
{"data":{"values":[{"t":0},{"t":0.3}]},"mark":{"type":"rule","color":"#9dc6e8"},"encoding":{"x":{"field":"t","type":"quantitative"}}},
{"data":{"name":"b"},"transform":[{"filter":"datum.e==='Cz'"},{"fold":["Target","Non-target"],"as":["cond","uV"]}],"mark":"line","encoding":{"x":{"field":"t","type":"quantitative","scale":{"domain":[-0.1,1],"nice":false}},"y":{"field":"uV","type":"quantitative","scale":{"domain":[-5,5],"nice":false}},"color":{"field":"cond","type":"nominal","scale":{"domain":["Target","Non-target"],"range":["#ff0000","#0000ff"]},"legend":null}}}
]},
{"width":86,"height":57,"title":"T8","layer":[
{"data":{"values":[{}]},"mark":{"type":"rule","color":"#b8b8b8"},"encoding":{"y":{"datum":0,"type":"quantitative"}}},
{"data":{"values":[{"t":0},{"t":0.3}]},"mark":{"type":"rule","color":"#9dc6e8"},"encoding":{"x":{"field":"t","type":"quantitative"}}},
{"data":{"name":"b"},"transform":[{"filter":"datum.e==='T8'"},{"fold":["Target","Non-target"],"as":["cond","uV"]}],"mark":"line","encoding":{"x":{"field":"t","type":"quantitative","scale":{"domain":[-0.1,1],"nice":false}},"y":{"field":"uV","type":"quantitative","scale":{"domain":[-5,5],"nice":false}},"color":{"field":"cond","type":"nominal","scale":{"domain":["Target","Non-target"],"range":["#ff0000","#0000ff"]},"legend":null}}}
]},
{"width":86,"height":57,"data":{"values":[{"t":0},{"t":0.3}]},"mark":{"type":"rule","color":"#9dc6e8"},"encoding":{"x":{"field":"t","type":"quantitative","scale":{"domain":[-0.1,1],"nice":false},"axis":{"values":[0,0.3,1],"title":"Time (sec)","labelExpr":"''+datum.value"}},"y":{"datum":-5,"type":"quantitative","scale":{"domain":[-5,5],"nice":false},"axis":{"values":[-5,0,5],"title":"Amplitude (uV)","labelExpr":"''+datum.value"}},"y2":{"datum":5}}},
{"width":86,"height":57,"title":"CPz","layer":[
{"data":{"values":[{"from":0.55,"to":0.64}]},"mark":{"type":"rect","color":"#c8c8c8"},"encoding":{"x":{"field":"from","type":"quantitative"},"x2":{"field":"to"}}},
{"data":{"values":[{}]},"mark":{"type":"rule","color":"#b8b8b8"},"encoding":{"y":{"datum":0,"type":"quantitative"}}},
{"data":{"values":[{"t":0},{"t":0.3}]},"mark":{"type":"rule","color":"#9dc6e8"},"encoding":{"x":{"field":"t","type":"quantitative"}}},
{"data":{"name":"b"},"transform":[{"filter":"datum.e==='CPz'"},{"fold":["Target","Non-target"],"as":["cond","uV"]}],"mark":"line","encoding":{"x":{"field":"t","type":"quantitative","scale":{"domain":[-0.1,1],"nice":false}},"y":{"field":"uV","type":"quantitative","scale":{"domain":[-5,5],"nice":false}},"color":{"field":"cond","type":"nominal","scale":{"domain":["Target","Non-target"],"range":["#ff0000","#0000ff"]},"legend":null}}}
]}
]},
{"columns":3,"spacing":{"row":23.5,"column":27},"bounds":"flush","resolve":{"legend":{"color":"independent"}},
"concat":[
{"width":86,"height":57,"data":{"values":[{}]},"mark":{"type":"text","text":""},"view":{"stroke":null},"title":{"text":"c","anchor":"start","dx":-14,"offset":-3,"fontSize":17}},
{"width":86,"height":57,"title":"Fz","layer":[
{"data":{"values":[{}]},"mark":{"type":"rule","color":"#b8b8b8"},"encoding":{"y":{"datum":0,"type":"quantitative"}}},
{"data":{"values":[{"t":0},{"t":0.3}]},"mark":{"type":"rule","color":"#9dc6e8"},"encoding":{"x":{"field":"t","type":"quantitative"}}},
{"data":{"name":"c"},"transform":[{"filter":"datum.e==='Fz'"},{"fold":["Target","Non-target"],"as":["cond","uV"]}],"mark":"line","encoding":{"x":{"field":"t","type":"quantitative","scale":{"domain":[-0.1,1],"nice":false}},"y":{"field":"uV","type":"quantitative","scale":{"domain":[-9,9],"nice":false}},"color":{"field":"cond","type":"nominal","scale":{"domain":["Target","Non-target"],"range":["#ff0000","#0000ff"]},"legend":{"title":null}}}}
]},
{"width":86,"height":57,"data":{"values":[{}]},"mark":{"type":"text","text":""},"view":{"stroke":null}},
{"width":86,"height":57,"title":"T7","layer":[
{"data":{"values":[{}]},"mark":{"type":"rule","color":"#b8b8b8"},"encoding":{"y":{"datum":0,"type":"quantitative"}}},
{"data":{"values":[{"t":0},{"t":0.3}]},"mark":{"type":"rule","color":"#9dc6e8"},"encoding":{"x":{"field":"t","type":"quantitative"}}},
{"data":{"name":"c"},"transform":[{"filter":"datum.e==='T7'"},{"fold":["Target","Non-target"],"as":["cond","uV"]}],"mark":"line","encoding":{"x":{"field":"t","type":"quantitative","scale":{"domain":[-0.1,1],"nice":false}},"y":{"field":"uV","type":"quantitative","scale":{"domain":[-9,9],"nice":false}},"color":{"field":"cond","type":"nominal","scale":{"domain":["Target","Non-target"],"range":["#ff0000","#0000ff"]},"legend":null}}}
]},
{"width":86,"height":57,"title":"Cz","layer":[
{"data":{"values":[{"from":0.39,"to":0.54}]},"mark":{"type":"rect","color":"#c8c8c8"},"encoding":{"x":{"field":"from","type":"quantitative"},"x2":{"field":"to"}}},
{"data":{"values":[{}]},"mark":{"type":"rule","color":"#b8b8b8"},"encoding":{"y":{"datum":0,"type":"quantitative"}}},
{"data":{"values":[{"t":0},{"t":0.3}]},"mark":{"type":"rule","color":"#9dc6e8"},"encoding":{"x":{"field":"t","type":"quantitative"}}},
{"data":{"name":"c"},"transform":[{"filter":"datum.e==='Cz'"},{"fold":["Target","Non-target"],"as":["cond","uV"]}],"mark":"line","encoding":{"x":{"field":"t","type":"quantitative","scale":{"domain":[-0.1,1],"nice":false}},"y":{"field":"uV","type":"quantitative","scale":{"domain":[-9,9],"nice":false}},"color":{"field":"cond","type":"nominal","scale":{"domain":["Target","Non-target"],"range":["#ff0000","#0000ff"]},"legend":null}}}
]},
{"width":86,"height":57,"title":"T8","layer":[
{"data":{"values":[{}]},"mark":{"type":"rule","color":"#b8b8b8"},"encoding":{"y":{"datum":0,"type":"quantitative"}}},
{"data":{"values":[{"t":0},{"t":0.3}]},"mark":{"type":"rule","color":"#9dc6e8"},"encoding":{"x":{"field":"t","type":"quantitative"}}},
{"data":{"name":"c"},"transform":[{"filter":"datum.e==='T8'"},{"fold":["Target","Non-target"],"as":["cond","uV"]}],"mark":"line","encoding":{"x":{"field":"t","type":"quantitative","scale":{"domain":[-0.1,1],"nice":false}},"y":{"field":"uV","type":"quantitative","scale":{"domain":[-9,9],"nice":false}},"color":{"field":"cond","type":"nominal","scale":{"domain":["Target","Non-target"],"range":["#ff0000","#0000ff"]},"legend":null}}}
]},
{"width":86,"height":57,"data":{"values":[{"t":0},{"t":0.3}]},"mark":{"type":"rule","color":"#9dc6e8"},"encoding":{"x":{"field":"t","type":"quantitative","scale":{"domain":[-0.1,1],"nice":false},"axis":{"values":[0,0.3,1],"title":"Time (sec)","labelExpr":"''+datum.value"}},"y":{"datum":-9,"type":"quantitative","scale":{"domain":[-9,9],"nice":false},"axis":{"values":[-9,0,9],"title":"Amplitude (uV)","labelExpr":"''+datum.value"}},"y2":{"datum":9}}},
{"width":86,"height":57,"title":"CPz","layer":[
{"data":{"values":[{"from":0.35,"to":0.54}]},"mark":{"type":"rect","color":"#c8c8c8"},"encoding":{"x":{"field":"from","type":"quantitative"},"x2":{"field":"to"}}},
{"data":{"values":[{}]},"mark":{"type":"rule","color":"#b8b8b8"},"encoding":{"y":{"datum":0,"type":"quantitative"}}},
{"data":{"values":[{"t":0},{"t":0.3}]},"mark":{"type":"rule","color":"#9dc6e8"},"encoding":{"x":{"field":"t","type":"quantitative"}}},
{"data":{"name":"c"},"transform":[{"filter":"datum.e==='CPz'"},{"fold":["Target","Non-target"],"as":["cond","uV"]}],"mark":"line","encoding":{"x":{"field":"t","type":"quantitative","scale":{"domain":[-0.1,1],"nice":false}},"y":{"field":"uV","type":"quantitative","scale":{"domain":[-9,9],"nice":false}},"color":{"field":"cond","type":"nominal","scale":{"domain":["Target","Non-target"],"range":["#ff0000","#0000ff"]},"legend":null}}}
]}
]},
{"columns":3,"spacing":{"row":23.5,"column":27},"bounds":"flush","resolve":{"legend":{"color":"independent"}},
"concat":[
{"width":86,"height":57,"data":{"values":[{}]},"mark":{"type":"text","text":""},"view":{"stroke":null},"title":{"text":"d","anchor":"start","dx":-14,"offset":-3,"fontSize":17}},
{"width":86,"height":57,"title":"Fz","layer":[
{"data":{"values":[{}]},"mark":{"type":"rule","color":"#b8b8b8"},"encoding":{"y":{"datum":0,"type":"quantitative"}}},
{"data":{"values":[{}]},"mark":{"type":"rule","color":"#7575e6"},"encoding":{"x":{"datum":0,"type":"quantitative"}}},
{"data":{"values":[{}]},"mark":{"type":"rule","color":"#babaf2","strokeWidth":1.5},"encoding":{"x":{"datum":0.3,"type":"quantitative"}}},
{"data":{"name":"d"},"transform":[{"filter":"datum.e==='Fz'"},{"fold":["Target","Non-target"],"as":["cond","uV"]}],"mark":"line","encoding":{"x":{"field":"t","type":"quantitative","scale":{"domain":[-0.1,1],"nice":false}},"y":{"field":"uV","type":"quantitative","scale":{"domain":[-5,5],"nice":false}},"color":{"field":"cond","type":"nominal","scale":{"domain":["Target","Non-target"],"range":["#ff0000","#0000ff"]},"legend":{"title":null}}}}
]},
{"width":86,"height":57,"data":{"values":[{}]},"mark":{"type":"text","text":""},"view":{"stroke":null}},
{"width":86,"height":57,"title":"T7","layer":[
{"data":{"values":[{}]},"mark":{"type":"rule","color":"#b8b8b8"},"encoding":{"y":{"datum":0,"type":"quantitative"}}},
{"data":{"values":[{}]},"mark":{"type":"rule","color":"#7575e6"},"encoding":{"x":{"datum":0,"type":"quantitative"}}},
{"data":{"values":[{}]},"mark":{"type":"rule","color":"#babaf2","strokeWidth":1.5},"encoding":{"x":{"datum":0.3,"type":"quantitative"}}},
{"data":{"name":"d"},"transform":[{"filter":"datum.e==='T7'"},{"fold":["Target","Non-target"],"as":["cond","uV"]}],"mark":"line","encoding":{"x":{"field":"t","type":"quantitative","scale":{"domain":[-0.1,1],"nice":false}},"y":{"field":"uV","type":"quantitative","scale":{"domain":[-5,5],"nice":false}},"color":{"field":"cond","type":"nominal","scale":{"domain":["Target","Non-target"],"range":["#ff0000","#0000ff"]},"legend":null}}}
]},
{"width":86,"height":57,"title":"Cz","layer":[
{"data":{"values":[{}]},"mark":{"type":"rule","color":"#b8b8b8"},"encoding":{"y":{"datum":0,"type":"quantitative"}}},
{"data":{"values":[{}]},"mark":{"type":"rule","color":"#7575e6"},"encoding":{"x":{"datum":0,"type":"quantitative"}}},
{"data":{"values":[{}]},"mark":{"type":"rule","color":"#babaf2","strokeWidth":1.5},"encoding":{"x":{"datum":0.3,"type":"quantitative"}}},
{"data":{"name":"d"},"transform":[{"filter":"datum.e==='Cz'"},{"fold":["Target","Non-target"],"as":["cond","uV"]}],"mark":"line","encoding":{"x":{"field":"t","type":"quantitative","scale":{"domain":[-0.1,1],"nice":false}},"y":{"field":"uV","type":"quantitative","scale":{"domain":[-5,5],"nice":false}},"color":{"field":"cond","type":"nominal","scale":{"domain":["Target","Non-target"],"range":["#ff0000","#0000ff"]},"legend":null}}}
]},
{"width":86,"height":57,"title":"T8","layer":[
{"data":{"values":[{}]},"mark":{"type":"rule","color":"#b8b8b8"},"encoding":{"y":{"datum":0,"type":"quantitative"}}},
{"data":{"values":[{}]},"mark":{"type":"rule","color":"#babaf2","strokeWidth":1.5},"encoding":{"x":{"datum":0,"type":"quantitative"}}},
{"data":{"values":[{}]},"mark":{"type":"rule","color":"#7575e6"},"encoding":{"x":{"datum":0.3,"type":"quantitative"}}},
{"data":{"name":"d"},"transform":[{"filter":"datum.e==='T8'"},{"fold":["Target","Non-target"],"as":["cond","uV"]}],"mark":"line","encoding":{"x":{"field":"t","type":"quantitative","scale":{"domain":[-0.1,1],"nice":false}},"y":{"field":"uV","type":"quantitative","scale":{"domain":[-5,5],"nice":false}},"color":{"field":"cond","type":"nominal","scale":{"domain":["Target","Non-target"],"range":["#ff0000","#0000ff"]},"legend":null}}}
]},
{"width":86,"height":57,"layer":[
{"data":{"values":[{}]},"mark":{"type":"rule","color":"#babaf2","strokeWidth":1.5},"encoding":{"x":{"datum":0.3,"type":"quantitative"}}},
{"data":{"values":[{"t":0}]},"mark":{"type":"rule","color":"#7575e6"},"encoding":{"x":{"field":"t","type":"quantitative","scale":{"domain":[-0.1,1],"nice":false},"axis":{"values":[0,0.3,1],"title":"Time (sec)","labelExpr":"''+datum.value"}},"y":{"datum":-5,"type":"quantitative","scale":{"domain":[-5,5],"nice":false},"axis":{"values":[-5,0,5],"title":"Amplitude (uV)","labelExpr":"''+datum.value"}},"y2":{"datum":5}}}
]},
{"width":86,"height":57,"title":"CPz","layer":[
{"data":{"values":[{}]},"mark":{"type":"rule","color":"#b8b8b8"},"encoding":{"y":{"datum":0,"type":"quantitative"}}},
{"data":{"values":[{}]},"mark":{"type":"rule","color":"#7575e6"},"encoding":{"x":{"datum":0,"type":"quantitative"}}},
{"data":{"values":[{}]},"mark":{"type":"rule","color":"#babaf2","strokeWidth":1.5},"encoding":{"x":{"datum":0.3,"type":"quantitative"}}},
{"data":{"name":"d"},"transform":[{"filter":"datum.e==='CPz'"},{"fold":["Target","Non-target"],"as":["cond","uV"]}],"mark":"line","encoding":{"x":{"field":"t","type":"quantitative","scale":{"domain":[-0.1,1],"nice":false}},"y":{"field":"uV","type":"quantitative","scale":{"domain":[-5,5],"nice":false}},"color":{"field":"cond","type":"nominal","scale":{"domain":["Target","Non-target"],"range":["#ff0000","#0000ff"]},"legend":null}}}
]}
]}
]
}
